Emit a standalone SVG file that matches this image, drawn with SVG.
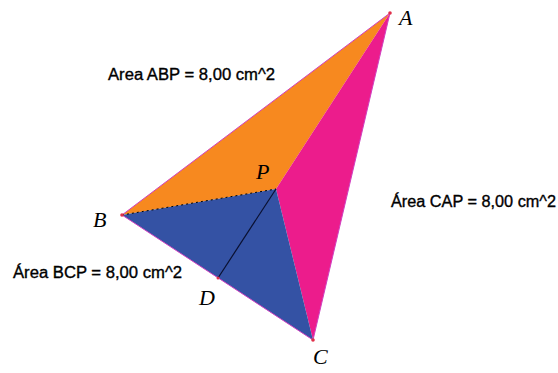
<svg xmlns="http://www.w3.org/2000/svg" width="558" height="373" viewBox="0 0 558 373">
<style>
.lbl{font-family:"Liberation Serif",serif;font-style:italic;font-size:22px;fill:#000}
.area{font-family:"Liberation Sans",Arial,sans-serif;font-size:16px;fill:#000;stroke:#000;stroke-width:0.35}
.edge{stroke:#d040c0;stroke-width:1;fill:none}
.pt{fill:#e0304a}
</style>
<rect width="558" height="373" fill="#fff"/>
<g id="regions">
<polygon id="ABP" points="390,13 122,215 276,189" fill="#f7891f"/>
<polygon id="CAP" points="390,13 276,189 313,340" fill="#ec1c8c"/>
<polygon id="BCP" points="122,215 313,340 276,189" fill="#3452a4"/>
</g>
<g id="connectors">
<line class="edge" x1="390" y1="13" x2="122" y2="215"/>
<line class="edge" x1="122" y1="215" x2="313" y2="340"/>
<line class="edge" x1="313" y1="340" x2="390" y2="13"/>
<line x1="122" y1="215" x2="276" y2="189" stroke="#000" stroke-width="1" stroke-dasharray="2,3"/>
<line x1="276" y1="189" x2="218" y2="278" stroke="#0a1030" stroke-width="1.2"/>
</g>
<g id="points">
<circle class="pt" cx="390" cy="13" r="1.8"/>
<circle class="pt" cx="122" cy="215" r="1.8"/>
<circle class="pt" cx="313" cy="340" r="1.8"/>
<circle class="pt" cx="218" cy="278" r="1.5"/>
</g>
<g id="A"><text class="lbl" x="399" y="25">A</text></g>
<g id="B"><text class="lbl" x="93" y="227">B</text></g>
<g id="P"><text class="lbl" x="256" y="179">P</text></g>
<g id="D"><text class="lbl" x="199" y="305">D</text></g>
<g id="C"><text class="lbl" x="313" y="364">C</text></g>
<g id="labelABP"><text class="area" x="108" y="80" textLength="167" lengthAdjust="spacingAndGlyphs">Area ABP = 8,00 cm^2</text></g>
<g id="labelBCP"><text class="area" x="13" y="278" textLength="169" lengthAdjust="spacingAndGlyphs">Área BCP = 8,00 cm^2</text></g>
<g id="labelCAP"><text class="area" x="391" y="207" textLength="165" lengthAdjust="spacingAndGlyphs">Área CAP = 8,00 cm^2</text></g>
</svg>
